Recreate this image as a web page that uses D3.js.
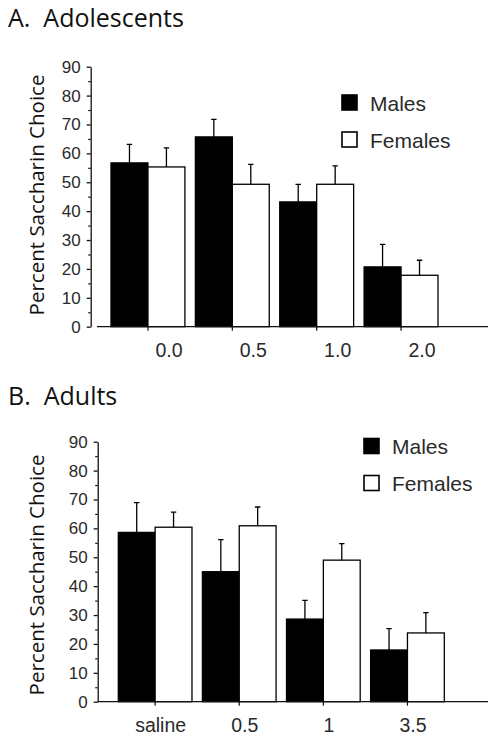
<!DOCTYPE html>
<html>
<head>
<meta charset="utf-8">
<script src="https://cdn.jsdelivr.net/npm/d3@7/dist/d3.min.js"></script>
<style>
  html, body { margin: 0; padding: 0; background: #fff; }
  svg { display: block; }
</style>
</head>
<body>
<svg id="chart" width="498" height="737"></svg>
<script>
// ---- DATA ----
const series = ["Males", "Females"];
const yTicks = [0, 10, 20, 30, 40, 50, 60, 70, 80, 90];

const adolCategories = ["0.0", "0.5", "1.0", "2.0"];
const adolMales = [56.7, 65.7, 43.2, 20.7];
const adolFemales = [55.3, 49.3, 49.3, 17.8];
const adolMalesSem = [6.4, 6.1, 6.1, 7.8];
const adolFemalesSem = [6.6, 6.9, 6.4, 5.2];

const adultCategories = ["saline", "0.5", "1", "3.5"];
const adultMales = [58.6, 45.0, 28.6, 17.9];
const adultFemales = [60.4, 60.9, 49.0, 23.8];
const adultMalesSem = [10.3, 11.1, 6.5, 7.4];
const adultFemalesSem = [5.2, 6.5, 5.7, 7.0];

const yLabel = "Percent Saccharin Choice";

// ---- DRAW ----
const svg = d3.select("#chart");
const ink = "#111";
const textCol = "#2a2a2a";

function drawPanel(o) {
  const g = svg.append("g");
  const y = d3.scaleLinear().domain([0, 90]).range([o.y0, o.y0 - 260]);
  const x = d3.scaleBand().domain(o.categories).range([o.barStart, o.barEnd]).paddingInner(0.124).paddingOuter(0);
  const xs = d3.scaleBand().domain(series).range([0, x.bandwidth()]);
  const rows = o.categories.map((c, i) => ({
    cat: c,
    vals: [
      { s: "Males", v: o.males[i], e: o.malesSem[i] },
      { s: "Females", v: o.females[i], e: o.femalesSem[i] }
    ]
  }));

  // title
  g.append("text").attr("x", 8).attr("y", o.titleY)
    .attr("font-family", "'Open Sans', sans-serif").attr("font-size", 25)
    .attr("fill", ink).attr("xml:space", "preserve").text(o.title);

  // y axis label
  g.append("text")
    .attr("transform", `translate(${44},${o.labelCenter}) rotate(-90)`)
    .attr("text-anchor", "middle")
    .attr("font-family", "'Open Sans', sans-serif").attr("font-size", 20.5)
    .attr("fill", ink).text(yLabel);

  // bars
  const grp = g.selectAll("g.grp").data(rows).join("g")
    .attr("transform", d => `translate(${x(d.cat)},0)`);
  grp.selectAll("rect").data(d => d.vals).join("rect")
    .attr("x", d => xs(d.s)).attr("width", xs.bandwidth())
    .attr("y", d => y(d.v)).attr("height", d => y(0) - y(d.v))
    .attr("fill", d => d.s === "Males" ? "#000" : "#fff")
    .attr("stroke", "#000").attr("stroke-width", 1.3);
  // error bars
  grp.selectAll("path.err").data(d => d.vals).join("path").attr("class", "err")
    .attr("d", d => {
      const cx = xs(d.s) + xs.bandwidth() / 2;
      return `M${cx},${y(d.v)}V${y(d.v + d.e)}M${cx - 2.7},${y(d.v + d.e)}H${cx + 2.7}`;
    })
    .attr("stroke", "#000").attr("stroke-width", 1.3).attr("fill", "none");

  // y axis
  const ya = g.append("g").attr("transform", `translate(${o.axisX},0)`)
    .call(d3.axisLeft(y).tickValues(yTicks).tickSize(4).tickSizeOuter(0).tickPadding(6).tickFormat(d3.format("d")));
  ya.select(".domain").attr("stroke", ink).attr("stroke-width", 1.3);
  ya.selectAll(".tick line").attr("stroke", ink).attr("stroke-width", 1.3);
  ya.selectAll(".tick text").attr("font-family", "'Liberation Sans', Arial, sans-serif")
    .attr("font-size", 17).attr("fill", textCol);
  const minor = g.append("g").attr("transform", `translate(${o.axisX},0)`)
    .call(d3.axisLeft(y).tickValues(d3.range(5, 90, 10)).tickSize(2.5).tickFormat(""));
  minor.select(".domain").remove();
  minor.selectAll(".tick line").attr("stroke", ink).attr("stroke-width", 1.2);

  // x axis
  g.append("line").attr("x1", o.xLineStart).attr("x2", 488)
    .attr("y1", y(0)).attr("y2", y(0)).attr("stroke", ink).attr("stroke-width", 1.3);
  const xa = g.append("g").attr("transform", `translate(0,${y(0)})`)
    .call(d3.axisBottom(x).tickSize(4).tickSizeOuter(0));
  xa.select(".domain").remove();
  xa.selectAll(".tick line").attr("stroke", ink).attr("stroke-width", 1.2);
  xa.selectAll(".tick text")
    .attr("x", o.labelShift).attr("y", o.tickLabelDy).attr("dy", null)
    .attr("font-family", "'Liberation Sans', Arial, sans-serif")
    .attr("font-size", 19.5).attr("fill", textCol);

  // legend
  const lg = g.append("g");
  series.forEach((s, i) => {
    const ly = o.legendY + i * 37;
    lg.append("rect").attr("x", o.legendX).attr("y", ly).attr("width", 15).attr("height", 15)
      .attr("fill", s === "Males" ? "#000" : "#fff").attr("stroke", "#000").attr("stroke-width", 1.6);
    lg.append("text").attr("x", o.legendX + 28).attr("y", ly + 15.5)
      .attr("font-family", "'Liberation Sans', Arial, sans-serif").attr("font-size", 21)
      .attr("fill", textCol).text(s);
  });
}

drawPanel({
  title: "A.  Adolescents", titleY: 27,
  categories: adolCategories, males: adolMales, females: adolFemales,
  malesSem: adolMalesSem, femalesSem: adolFemalesSem,
  y0: 326.7, axisX: 90.7, xLineStart: 97, barStart: 111, barEnd: 438,
  labelShift: 21, tickLabelDy: 30, labelCenter: 195,
  legendX: 342, legendY: 95
});
drawPanel({
  title: "B.  Adults", titleY: 405,
  categories: adultCategories, males: adultMales, females: adultFemales,
  malesSem: adultMalesSem, femalesSem: adultFemalesSem,
  y0: 701.7, axisX: 97.7, xLineStart: 97.7, barStart: 118.3, barEnd: 444.3,
  labelShift: 5.5, tickLabelDy: 30, labelCenter: 575,
  legendX: 364, legendY: 438.5
});
</script>
</body>
</html>
